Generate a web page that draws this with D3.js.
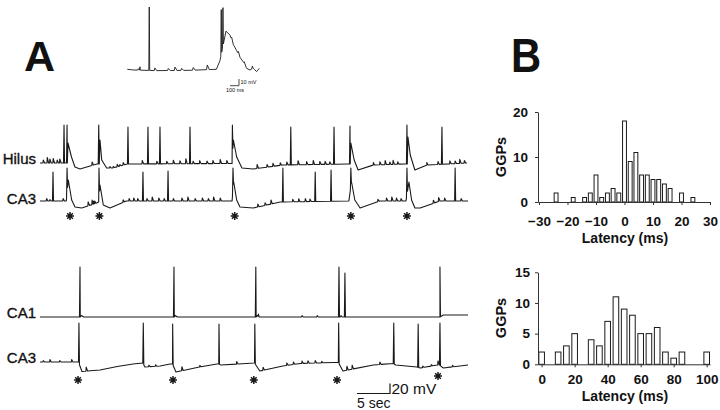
<!DOCTYPE html>
<html>
<head>
<meta charset="utf-8">
<script src="https://cdn.jsdelivr.net/npm/d3@7"></script>
<style>
  body { margin: 0; background: #fff; }
  svg { display: block; }
  text { font-family: "Liberation Sans", Arial, Helvetica, sans-serif; fill: #111; }
</style>
</head>
<body>
<svg id="fig" width="720" height="410"></svg>
<script>
// ---------- histogram data (panel B) ----------
const latencyTop = [-24, -18, -14, -12, -10, -8, -6, -4, -2, 0, 2, 4, 6, 8, 10, 12, 14, 16, 20, 24];
const countsTop  = [2, 1, 1, 2, 6, 1, 2, 3, 2, 18, 9, 11, 6, 6, 5, 5, 4, 3, 2, 1];
const xTicksTop  = [-30, -20, -10, 0, 10, 20, 30];
const yTicksTop  = [0, 10, 20];

const latencyBottom = [0, 10, 15, 20, 30, 35, 40, 45, 50, 55, 60, 65, 70, 75, 80, 85, 100];
const countsBottom  = [2, 2, 3, 5, 4, 3, 7, 11, 9, 8, 5, 5, 6, 2, 1, 2, 2];
const xTicksBottom  = [0, 20, 40, 60, 80, 100];
const yTicksBottom  = [0, 5, 10, 15];

// ---------- traces (panel A), time in s, voltage in mV above rest ----------
// baseline breakpoints [t, mV], spikes [t, peak mV], epsps [t, amplitude mV]
const hilusBase = [[0, 0], [3.5, 0], [4.14, 0], [4.24, 40], [4.77, 12], [5.3, -8], [6.06, -12], [8.64, -2],
  [8.98, -2], [9.09, 46], [9.35, 6], [10.1, -10], [11.06, -10], [13.2, -2], [28.6, -1], [29.1, -1],
  [29.3, 46], [29.8, 12], [30.6, -10], [32.3, -12], [36.8, -4], [46.7, -2], [47.0, -2], [47.1, 40],
  [47.6, 6], [48.2, -14], [50.5, -4], [55.2, -2], [55.65, -2], [55.75, 52], [56.1, 16], [56.8, -14],
  [58.6, -4], [64.7, 0]];
const hilusSpikes = [[3.64, 76], [4.1, 76], [8.9, 76], [13.33, 72], [16.36, 72], [18.18, 72], [22.73, 72],
  [29.15, 76], [38.0, 72], [44.55, 72], [46.97, 74], [55.6, 76], [60.9, 72]];
const hilusEpsps = [[0.5, 6], [1.1, 11], [1.5, 8], [2.0, 9], [2.6, 6], [3.0, 8], [7.9, 7],
  [10.6, 3], [11.1, 3], [11.7, 5], [12.1, 3], [12.6, 5], [15.5, 7], [17.7, 5], [19.2, 5], [20.2, 7],
  [21.2, 6], [22.1, 10], [23.2, 5], [24.2, 6], [25.3, 5], [26.2, 6], [27.3, 8], [28.3, 6], [32.9, 8],
  [34.4, 5], [35.3, 6], [36.4, 5], [37.4, 6], [39.1, 8], [40.4, 6], [41.4, 8], [42.4, 6], [43.2, 6],
  [43.9, 5], [50.5, 5], [51.5, 6], [52.3, 8], [53.0, 5], [53.5, 8], [54.2, 5], [58.6, 5], [60.3, 6],
  [62.1, 6], [62.9, 5], [63.6, 8], [64.3, 5]];

const ca3TopBase = [[0, 0], [3.98, 0], [4.29, 42], [4.8, 2], [5.3, -12], [6.32, -14], [8.59, -4], [8.89, -2],
  [9.09, 32], [9.59, -8], [10.6, -14], [13.1, 0], [29.1, 0], [29.35, 38], [29.8, 2], [30.3, -12],
  [32.3, -14], [36.4, -2], [46.8, 0], [47.2, 38], [47.7, 2], [48.5, -14], [51.5, 0], [55.45, 0],
  [55.9, 38], [56.3, 2], [56.8, -14], [57.6, -14], [60.6, 0], [64.85, 0]];
const ca3TopSpikes = [[1.97, 58], [4.1, 66], [8.94, 66], [15.6, 58], [19.4, 60], [29.24, 66], [36.8, 66],
  [41.7, 58], [44.1, 62], [47.1, 66], [55.6, 66], [62.9, 66]];
const ca3TopEpsps = [[1.0, 5], [1.5, 3], [3.5, 5], [7.3, 8], [7.9, 9], [8.1, 6], [8.3, 5], [12.6, 5],
  [13.5, 5], [14.2, 6], [14.8, 5], [16.2, 5], [17.0, 8], [18.0, 6], [18.8, 5], [20.2, 5], [21.5, 6],
  [22.4, 8], [23.5, 5], [24.6, 6], [25.5, 5], [26.3, 8], [27.3, 6], [33.0, 6], [34.1, 5], [35.0, 8],
  [38.3, 5], [39.2, 6], [40.2, 6], [40.9, 5], [51.2, 5], [52.5, 6], [53.3, 8], [54.0, 6], [54.7, 5],
  [59.6, 6], [60.4, 8], [61.3, 6], [63.8, 5]];

const ca1Base = [[0, 0], [6.1, 0], [6.3, 3], [6.6, 0], [20.35, 0], [20.5, 3], [20.8, 0], [32.75, 0],
  [32.9, 3], [33.2, 0], [60.6, 0], [61.1, 4], [64.85, 4]];
const ca1Spikes = [[6.06, 100], [20.3, 100], [32.7, 100], [45.3, 100], [46.2, 88], [60.6, 100]];
const ca1Epsps = [[33.1, 5], [39.7, 3], [42.0, 3], [45.6, 3]];

const ca3BottomBase = [[0, 0], [5.83, 0], [6.36, -19], [9.1, -16], [11.7, -9], [14.1, -4], [15.56, -2],
  [15.9, -10], [18.2, -8], [19.7, -4], [20.08, -4], [20.6, -20], [24.2, -10], [26.8, -4], [27.08, -4],
  [27.4, -6], [32.5, -2], [33.3, -18], [36.8, -8], [39.4, -3], [44.4, -1], [45.2, -1], [45.9, -18],
  [50.5, -6], [53.5, -3], [53.9, -6], [57.1, -10], [57.6, -12], [60.2, -6], [60.5, -6], [61.1, -12],
  [64.85, -6]];
const ca3BottomSpikes = [[5.9, 78], [15.65, 78], [20.1, 76], [27.12, 76], [32.55, 76], [45.25, 78],
  [53.6, 78], [57.3, 76], [60.6, 78]];
const ca3BottomEpsps = [[0.5, 3], [1.5, 5], [3.0, 3], [4.8, 5], [7.0, 8], [16.5, 3], [17.5, 3],
  [21.5, 8], [24.2, 3], [29.8, 5], [33.8, 6], [37.4, 5], [38.4, 5], [39.7, 5], [40.6, 5], [41.7, 5],
  [42.7, 3], [46.5, 8], [47.3, 8], [51.5, 5], [58.0, 3], [59.3, 3], [60.3, 8], [62.5, 3]];

// inset, time in ms
const insetBase = [[0, 0], [67, -1], [327, -2], [700, -1.5], [990, 0], [1030, 13], [1097, 57], [1141, 51],
  [1178, 37], [1215, 28], [1252, 18], [1289, 11], [1326, 1.4], [1363, -1], [1400, 1.4], [1437, -3.4],
  [1467, 1.4]];
const insetSpikes = [[244, 93], [1044, 89], [1063, 92]];
const insetEpsps = [[122, 2], [141, 5], [307, 4], [456, 3], [530, 5], [604, 3], [733, 4], [889, 7],
  [1160, 4], [1235, 4], [1300, 3], [1390, 4]];

const asterisksTop = [4.55, 9.0, 29.5, 47.1, 55.6];
const asterisksBottom = [5.76, 20.15, 32.4, 45.0, 60.3];

// ---------- drawing ----------
const svg = d3.select("#fig");
const ink = "#1a1a1a";

function tracePoints (base, spikes, epsps, w, rise, decay) {
  const b = d3.scaleLinear().domain(base.map(d => d[0])).range(base.map(d => d[1])).clamp(true);
  const pts = base.map(d => [d[0], d[1]]);
  spikes.forEach(([t, peak]) => pts.push([t - w, b(t - w)], [t, peak], [t + w, b(t + w)]));
  epsps.forEach(([t, a]) => pts.push([t - rise, b(t - rise)], [t, b(t) + a], [t + decay, b(t + decay)]));
  return pts.sort((p, q) => p[0] - q[0]);
}

function drawTrace (pts, x, y, width) {
  const line = d3.line().x(d => x(d[0])).y(d => y(d[1]));
  svg.append("path")
    .attr("d", line(pts))
    .attr("fill", "none")
    .attr("stroke", ink)
    .attr("stroke-width", width)
    .attr("stroke-linejoin", "round");
}

const xMain = d3.scaleLinear().domain([0, 65]).range([40, 469]);
const yRow = rest => d3.scaleLinear().domain([0, 100]).range([rest, rest - 50]);
const yHilus = yRow(163), yCa3Top = yRow(201), yCa1 = yRow(317), yCa3Bottom = yRow(362);

drawTrace(tracePoints(hilusBase, hilusSpikes, hilusEpsps, 0.08, 0.05, 0.2), xMain, yHilus, 1.1);
drawTrace(tracePoints(ca3TopBase, ca3TopSpikes, ca3TopEpsps, 0.08, 0.05, 0.2), xMain, yCa3Top, 1.1);
drawTrace(tracePoints(ca1Base, ca1Spikes, ca1Epsps, 0.08, 0.05, 0.2), xMain, yCa1, 1.1);
drawTrace(tracePoints(ca3BottomBase, ca3BottomSpikes, ca3BottomEpsps, 0.08, 0.05, 0.2), xMain, yCa3Bottom, 1.1);

// inset
const xInset = d3.scaleLinear().domain([0, 1467]).range([127.3, 259.3]);
const yInset = d3.scaleLinear().domain([0, 10]).range([69.3, 62.6]);
drawTrace(tracePoints(insetBase, insetSpikes, insetEpsps, 5, 8, 22), xInset, yInset, 0.9);

// row labels
const rowLabels = [["Hilus", 164], ["CA3", 204], ["CA1", 318], ["CA3", 363]];
svg.selectAll("text.row").data(rowLabels).enter().append("text")
  .attr("class", "row")
  .attr("x", 36).attr("y", d => d[1])
  .attr("text-anchor", "end")
  .attr("font-size", 15)
  .style("stroke", "#111").style("stroke-width", 0.35)
  .text(d => d[0]);

// asterisks
function asterisk (cx, cy, r) {
  const p = d3.path();
  [0, 45, 90, 135].forEach(a => {
    const rad = a * Math.PI / 180;
    p.moveTo(cx - r * Math.cos(rad), cy - r * Math.sin(rad));
    p.lineTo(cx + r * Math.cos(rad), cy + r * Math.sin(rad));
  });
  svg.append("path").attr("d", p.toString()).attr("stroke", ink).attr("stroke-width", 1.5);
}
asterisksTop.forEach(t => asterisk(xMain(t), 216, 4));
asterisksBottom.forEach((t, i) => asterisk(xMain(t), i === asterisksBottom.length - 1 ? 376 : 380, 4));

// scale bars
function scaleBar (x0, yb, x, y, tSpan, vSpan, width) {
  const x1 = x(x.domain()[0] + tSpan) - x(x.domain()[0]) + x0;
  const h = y(0) - y(vSpan);
  svg.append("path")
    .attr("d", `M${x0},${yb}H${x1}V${yb - h}`)
    .attr("fill", "none").attr("stroke", ink).attr("stroke-width", width);
  return x1;
}
const sbx = scaleBar(357, 393.5, xMain, yCa3Bottom, 5, 20, 1.2);
svg.append("text").attr("x", sbx + 1.5).attr("y", 394).attr("font-size", 15.5).text("20 mV");
svg.append("text").attr("x", 357).attr("y", 407.5).attr("font-size", 14).text("5 sec");

const ibx = scaleBar(230, 85.7, xInset, yInset, 100, 10, 0.8);
svg.append("text").attr("x", ibx + 1.5).attr("y", 84).attr("font-size", 5.5).text("10 mV");
svg.append("text").attr("x", 226).attr("y", 91.5).attr("font-size", 5.5).text("100 ms");

// panel letters
svg.append("text").attr("x", 24).attr("y", 71).attr("font-size", 43).attr("font-weight", "bold").text("A");
svg.append("text").attr("transform", "translate(511,71.7) scale(0.87,1)")
  .attr("font-size", 48).attr("font-weight", "bold").text("B");

// histograms
function histogram (cats, counts, xDomain, yDomain, top, bottom, binW, xTicks, yTicks, xPad, yPad, titleY, xTitleY) {
  const x = d3.scaleLinear().domain(xDomain).range([538, 710]);
  const y = d3.scaleLinear().domain(yDomain).range([bottom, top]);
  const bw = (x(binW) - x(0)) * 0.68;
  const g = svg.append("g");

  g.selectAll("rect").data(cats).enter().append("rect")
    .attr("x", d => x(d) - bw / 2)
    .attr("y", (d, i) => y(counts[i]))
    .attr("width", bw)
    .attr("height", (d, i) => y(0) - y(counts[i]))
    .attr("fill", "#fff").attr("stroke", ink).attr("stroke-width", 1);

  const ax = g.append("g").attr("transform", `translate(0,${bottom})`)
    .call(d3.axisBottom(x).tickValues(xTicks).tickSize(3).tickSizeOuter(0).tickPadding(xPad));
  const ay = g.append("g").attr("transform", "translate(538,0)")
    .call(d3.axisLeft(y).tickValues(yTicks).tickSize(3).tickSizeOuter(0).tickPadding(yPad));
  [ax, ay].forEach(a => {
    a.selectAll("path, line").attr("stroke", "#333");
    a.selectAll("text").attr("font-size", 13.5).attr("font-weight", "bold").attr("fill", "#111")
      .style("font-family", "\"Liberation Sans\", Arial, sans-serif");
  });

  g.append("text").attr("transform", `translate(506,${titleY}) rotate(-90)`)
    .attr("text-anchor", "middle").attr("font-size", 14.5).attr("font-weight", "bold").text("GGPs");
  g.append("text").attr("x", 625).attr("y", xTitleY)
    .attr("text-anchor", "middle").attr("font-size", 14).attr("font-weight", "bold").text("Latency (ms)");
}

histogram(latencyTop, countsTop, [-30.35, 30], [0, 20], 112, 202, 2, xTicksTop, yTicksTop, 11.5, 7, 157, 243);
histogram(latencyBottom, countsBottom, [-2.2, 102], [0, 15], 272.3, 364.3, 5, xTicksBottom, yTicksBottom, 7, 5, 318, 400.5);
</script>
</body>
</html>
